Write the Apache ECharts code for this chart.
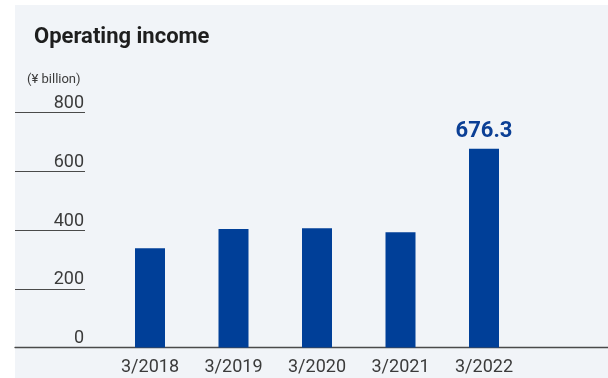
<!DOCTYPE html>
<html>
<head>
<meta charset="utf-8">
<script src="https://cdn.jsdelivr.net/npm/echarts@6/dist/echarts.min.js"></script>
<style>
  html, body { margin: 0; padding: 0; background: #ffffff; }
  #panel { position: absolute; left: 15px; top: 5px; width: 593px; height: 373px; background: #f1f4f8; }
  #chart { position: absolute; left: 0; top: 0; width: 608px; height: 378px; }
</style>
</head>
<body>
<div id="panel"></div>
<div id="chart"></div>
<script>
// Fiscal years (ending March) and operating income, ¥ billion
const categories = ['3/2018', '3/2019', '3/2020', '3/2021', '3/2022'];
const operatingIncome = [337.5, 403.7, 406.0, 392.2, 676.3];
const yTicks = [0, 200, 400, 600, 800];

const yMin = yTicks[0];
const yMax = yTicks[yTicks.length - 1];
const yStep = yTicks[1] - yTicks[0];

const barBlue = '#003f98';
const inkGray = '#3b3b3b';
const ruleGray = '#4a4a4a';
const font = 'Roboto, "Noto Sans", sans-serif';

const plotTop = 112.5;
const plotBottom = 30.5;

const chart = echarts.init(document.getElementById('chart'), null, { renderer: 'canvas' });

chart.setOption({
  backgroundColor: 'transparent',
  animation: false,
  title: [
    {
      text: 'Operating income',
      left: 34, top: 26, padding: 0,
      textStyle: { fontFamily: font, fontWeight: 'bold', fontSize: 22, color: '#1e1e1e' }
    },
    {
      text: '(¥ billion)',
      left: 27, top: 73, padding: 0,
      textStyle: { fontFamily: font, fontWeight: 'normal', fontSize: 13, color: inkGray }
    }
  ],
  grid: [
    // short tick rules with labels on the left
    { left: 15, width: 70, top: plotTop, bottom: plotBottom },
    // baseline spanning the full width
    { left: 15, right: 0, top: plotTop, bottom: plotBottom },
    // bar area
    { left: 108.25, width: 417.5, top: plotTop, bottom: plotBottom }
  ],
  xAxis: [
    { gridIndex: 0, type: 'value', show: false },
    {
      gridIndex: 1, type: 'value', min: 0, max: 1,
      axisLine: { show: true, lineStyle: { color: ruleGray, width: 1.3 } },
      axisTick: { show: false }, axisLabel: { show: false }, splitLine: { show: false }
    },
    {
      gridIndex: 2, type: 'category', data: categories,
      axisLine: { show: false }, axisTick: { show: false },
      axisLabel: { fontFamily: font, fontSize: 18, color: inkGray, margin: 11 }
    }
  ],
  yAxis: [
    {
      gridIndex: 0, type: 'value', min: yMin, max: yMax, interval: yStep,
      position: 'right',
      axisLine: { show: false }, axisTick: { show: false },
      axisLabel: {
        inside: true, margin: 1, fontFamily: font, fontSize: 18, color: inkGray,
        verticalAlign: 'bottom', padding: [0, 0, 0, 0]
      },
      splitLine: { show: true, lineStyle: { color: ruleGray, width: 1.2 } }
    },
    { gridIndex: 1, type: 'value', min: yMin, max: yMax, show: false },
    { gridIndex: 2, type: 'value', min: yMin, max: yMax, show: false }
  ],
  series: [
    {
      type: 'bar',
      xAxisIndex: 2, yAxisIndex: 2,
      barWidth: 30,
      itemStyle: { color: barBlue },
      data: operatingIncome.map((v, i) => i === operatingIncome.length - 1
        ? {
            value: v,
            label: {
              show: true, position: 'top', distance: 6,
              fontFamily: font, fontWeight: 'bold', fontSize: 22, color: '#0b3f95',
              formatter: (p) => p.value.toFixed(1)
            }
          }
        : v)
    }
  ]
});
</script>
</body>
</html>
